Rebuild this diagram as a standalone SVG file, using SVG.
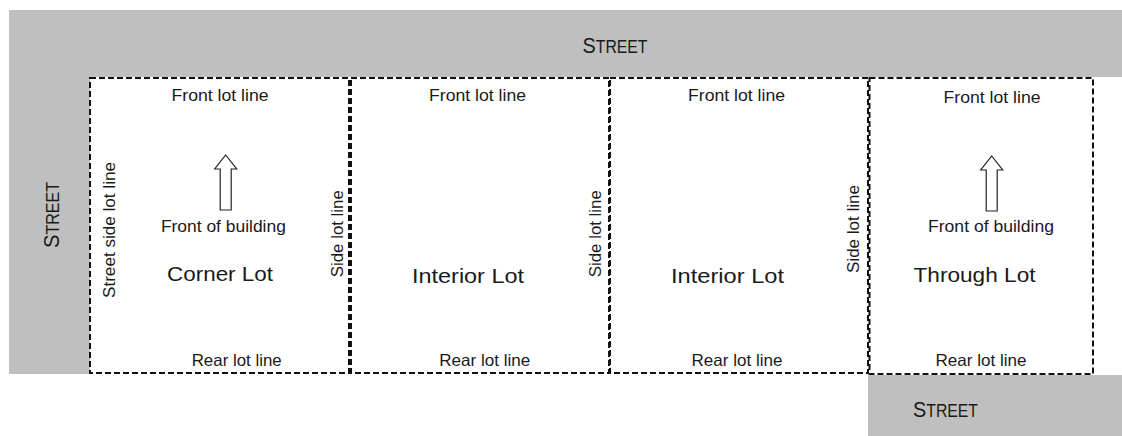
<svg xmlns="http://www.w3.org/2000/svg" xmlns:xlink="http://www.w3.org/1999/xlink" width="1122" height="436" viewBox="0 0 1122 436">
<style>
  .street { fill: #bfbfbf; }
  .lot { fill: none; stroke: #111; stroke-width: 2; stroke-dasharray: 6 3; }
  text { font-family: "Liberation Sans", Arial, sans-serif; fill: #1a1a1a; }
  .lbl { font-size: 16.5px; }
  .name { font-size: 21px; }
  .st { font-size: 22px; }
  .st tspan.sm { font-size: 17.5px; }
  .arrow { fill: #fff; stroke: #222; stroke-width: 1.2; }
</style>
<defs>
  <path id="arrowShape" d="M0,0 L11,14 L5.5,14 L5.5,55 L-5.5,55 L-5.5,14 L-11,14 Z"/>
</defs>
<rect width="1122" height="436" fill="#fff"/>

<g id="street-top">
  <rect class="street" x="9" y="10" width="1113" height="67"/>
  <text class="st" x="615" y="53" text-anchor="middle" textLength="65" lengthAdjust="spacingAndGlyphs">S<tspan class="sm">TREET</tspan></text>
</g>
<g id="street-left">
  <rect class="street" x="9" y="10" width="81" height="364"/>
  <text class="st" transform="translate(59,215) rotate(-90)" text-anchor="middle" textLength="66" lengthAdjust="spacingAndGlyphs">S<tspan class="sm">TREET</tspan></text>
</g>
<g id="street-bottom">
  <rect class="street" x="868" y="375" width="254" height="61"/>
  <text class="st" x="913" y="417" textLength="65" lengthAdjust="spacingAndGlyphs">S<tspan class="sm">TREET</tspan></text>
</g>

<g id="corner-lot">
  <rect class="lot" x="90" y="78" width="259" height="295"/>
  <text class="lbl" x="220" y="101" text-anchor="middle" textLength="97" lengthAdjust="spacingAndGlyphs">Front lot line</text>
  <use href="#arrowShape" xlink:href="#arrowShape" class="arrow" x="225.7" y="155"/>
  <text class="lbl" x="223.4" y="231.7" text-anchor="middle" textLength="125" lengthAdjust="spacingAndGlyphs">Front of building</text>
  <text class="name" x="220" y="281" text-anchor="middle" textLength="106" lengthAdjust="spacingAndGlyphs">Corner Lot</text>
  <text class="lbl" x="236.7" y="365.5" text-anchor="middle" textLength="90" lengthAdjust="spacingAndGlyphs">Rear lot line</text>
  <text class="lbl" transform="translate(115,230) rotate(-90)" text-anchor="middle" textLength="136" lengthAdjust="spacingAndGlyphs">Street side lot line</text>
  <text class="lbl" transform="translate(342.7,233.7) rotate(-90)" text-anchor="middle" textLength="87" lengthAdjust="spacingAndGlyphs">Side lot line</text>
</g>

<g id="interior-lot-1">
  <rect class="lot" x="351" y="78" width="258" height="295"/>
  <text class="lbl" x="477.5" y="100.5" text-anchor="middle" textLength="97" lengthAdjust="spacingAndGlyphs">Front lot line</text>
  <text class="name" x="468" y="283" text-anchor="middle" textLength="112" lengthAdjust="spacingAndGlyphs">Interior Lot</text>
  <text class="lbl" x="484.7" y="365.5" text-anchor="middle" textLength="91" lengthAdjust="spacingAndGlyphs">Rear lot line</text>
  <text class="lbl" transform="translate(600.7,233.7) rotate(-90)" text-anchor="middle" textLength="87" lengthAdjust="spacingAndGlyphs">Side lot line</text>
</g>

<g id="interior-lot-2">
  <rect class="lot" x="610" y="78" width="258" height="295"/>
  <text class="lbl" x="736.5" y="100.5" text-anchor="middle" textLength="97" lengthAdjust="spacingAndGlyphs">Front lot line</text>
  <text class="name" x="727.5" y="283" text-anchor="middle" textLength="113" lengthAdjust="spacingAndGlyphs">Interior Lot</text>
  <text class="lbl" x="737" y="365.5" text-anchor="middle" textLength="91" lengthAdjust="spacingAndGlyphs">Rear lot line</text>
  <text class="lbl" transform="translate(859.3,229) rotate(-90)" text-anchor="middle" textLength="88" lengthAdjust="spacingAndGlyphs">Side lot line</text>
</g>

<g id="through-lot">
  <rect class="lot" x="869.5" y="78" width="223.5" height="296"/>
  <text class="lbl" x="992" y="103" text-anchor="middle" textLength="97" lengthAdjust="spacingAndGlyphs">Front lot line</text>
  <use href="#arrowShape" xlink:href="#arrowShape" class="arrow" x="991.7" y="156"/>
  <text class="lbl" x="991" y="231.7" text-anchor="middle" textLength="126" lengthAdjust="spacingAndGlyphs">Front of building</text>
  <text class="name" x="974.5" y="282" text-anchor="middle" textLength="122" lengthAdjust="spacingAndGlyphs">Through Lot</text>
  <text class="lbl" x="981" y="365.5" text-anchor="middle" textLength="91" lengthAdjust="spacingAndGlyphs">Rear lot line</text>
</g>
</svg>
